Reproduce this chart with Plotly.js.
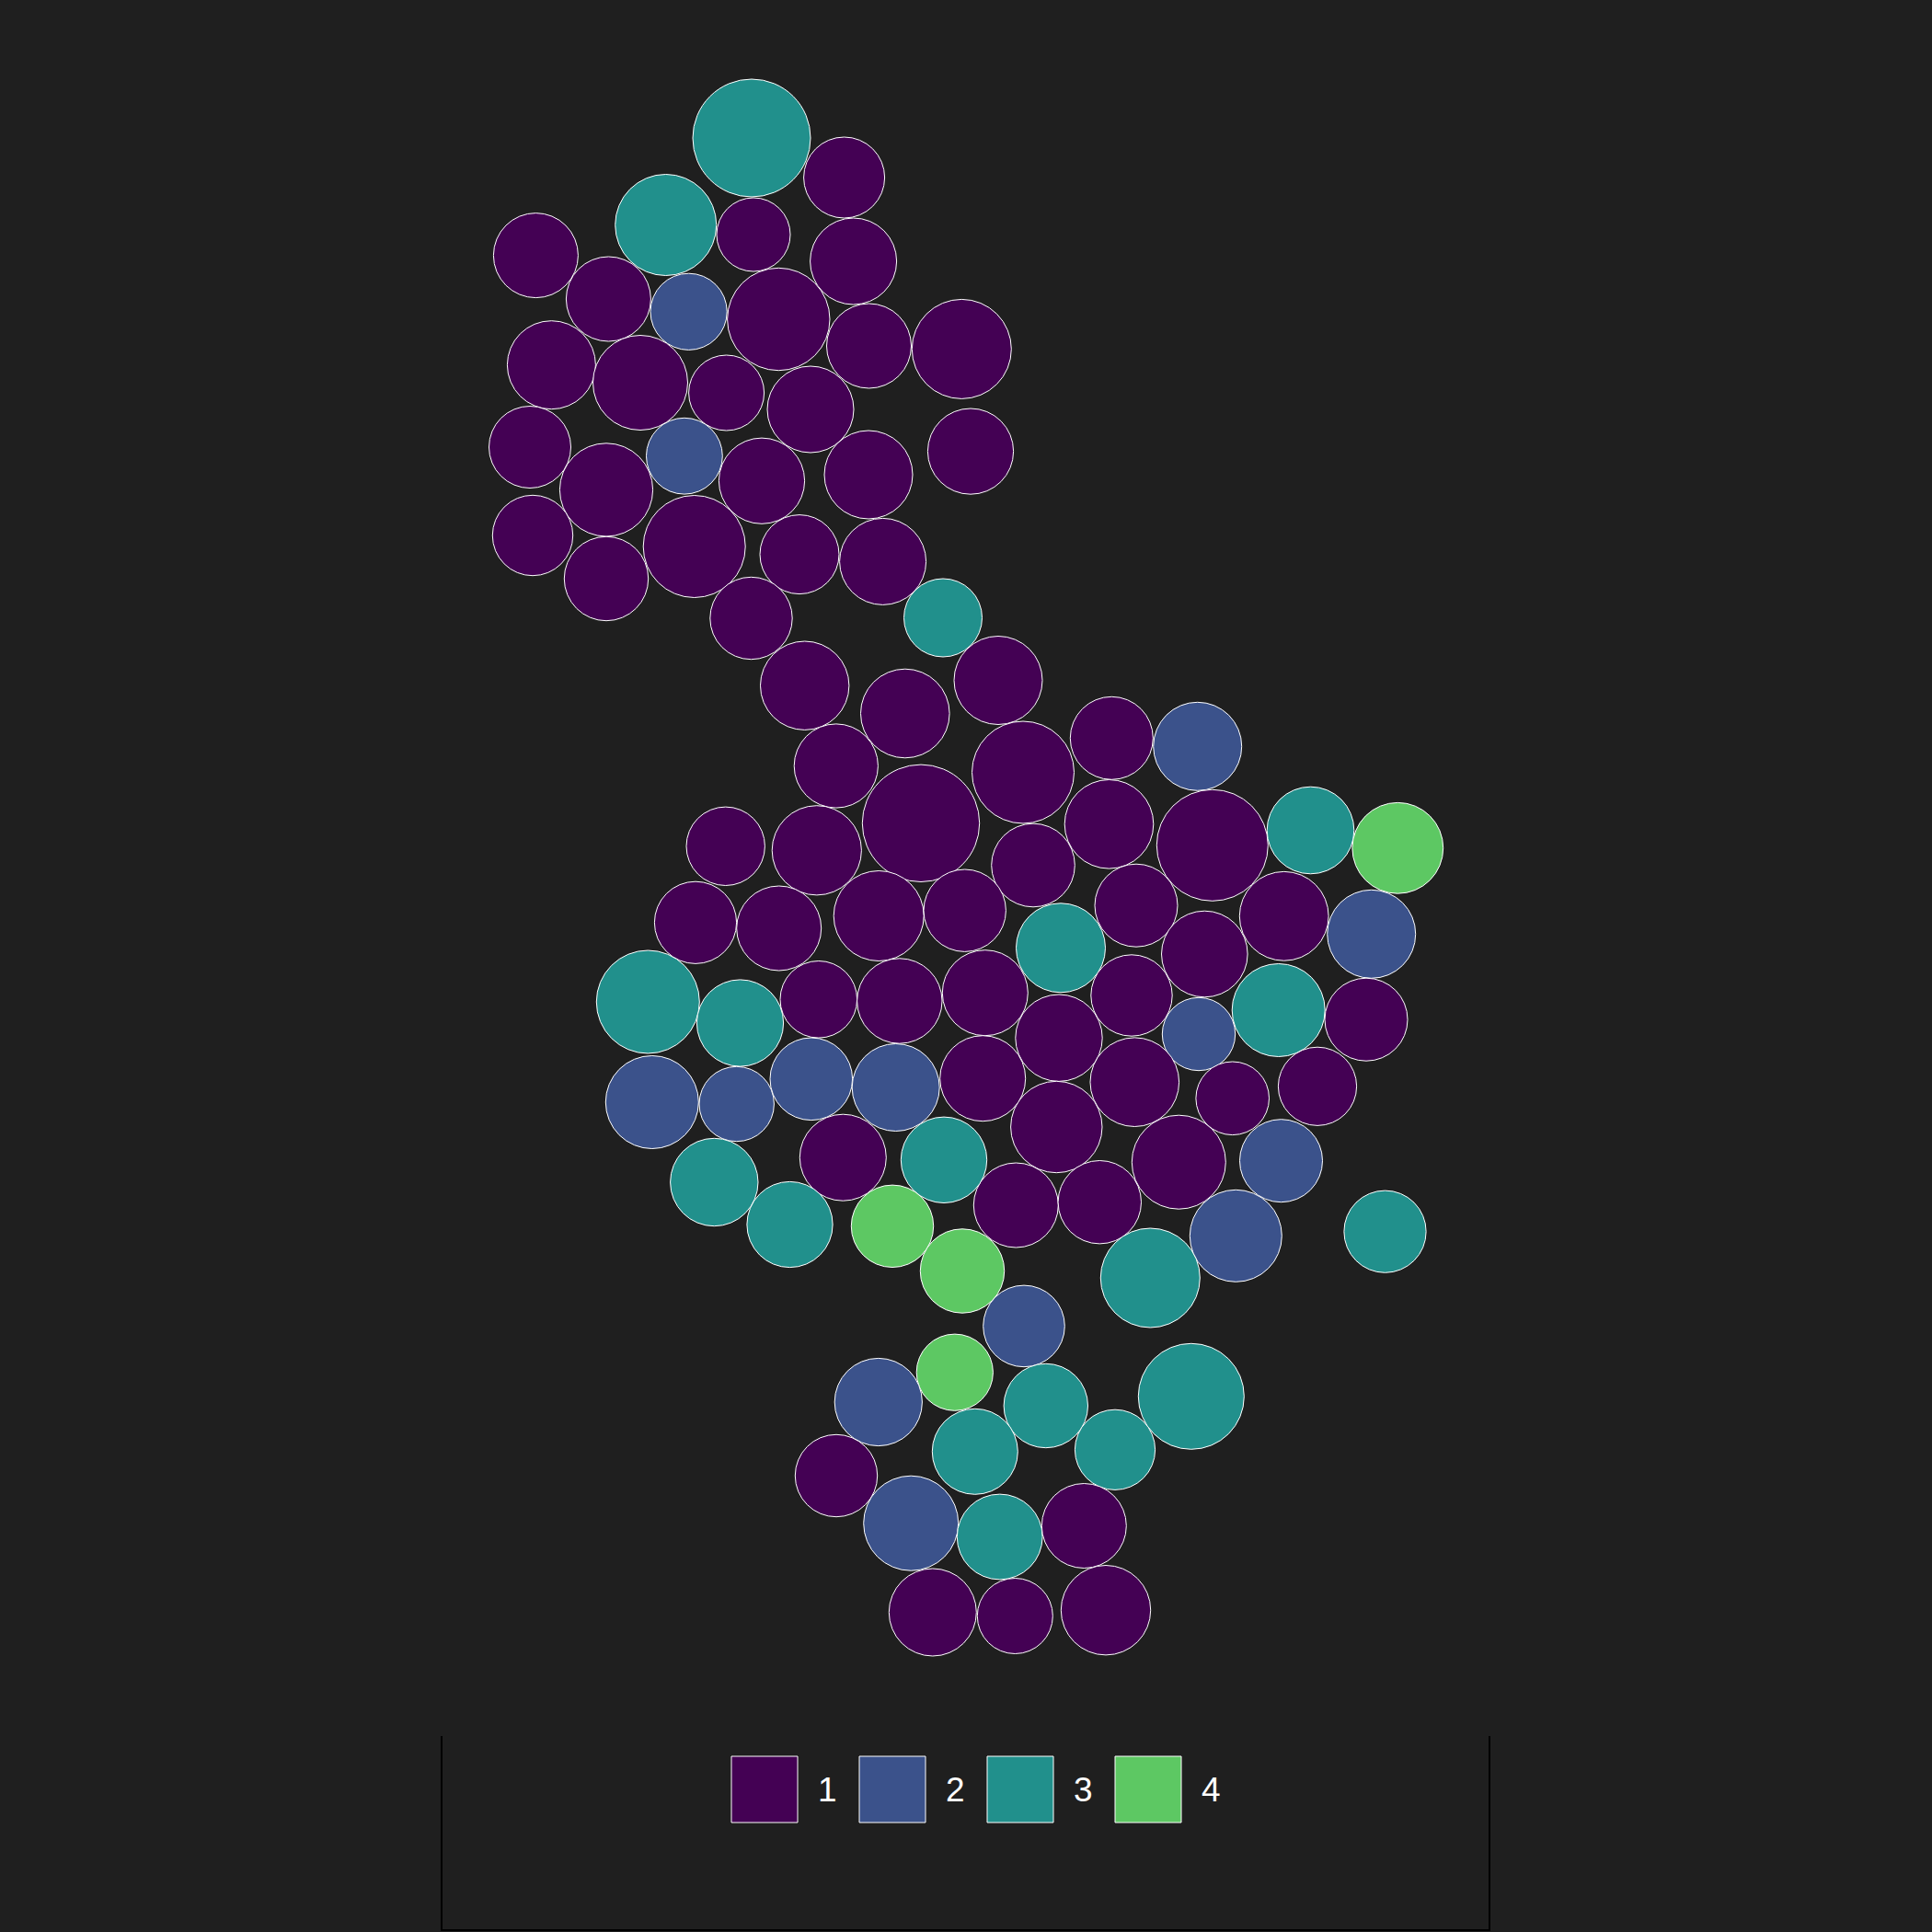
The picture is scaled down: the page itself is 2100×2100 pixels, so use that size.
<!DOCTYPE html>
<html>
<head>
<meta charset="utf-8">
<script src="https://cdn.plot.ly/plotly-3.0.1.min.js"></script>
<style>html,body{margin:0;padding:0;background:#1f1f1f;}</style>
</head>
<body>
<div id="chart" style="width:2100px;height:2100px;"></div>
<script>
// Circle centres (x, y) and radii, in map units, with their class (1-4)
const cx = [817,917.6,723.7,819,927.6,582.4,661.4,748.6,846.3,944.5,1045.3,599.4,696,789.6,881,576,743.9,659,828,944,1055,579,659,754.7,869,959.6,816.5,1025,874.7,983.8,1085,908.8,1001,1112,788.7,887.8,1123,756,846.7,955.2,1048.7,704.3,1153,1208.3,1301.7,1205.5,1317.8,1424.5,1519.3,1235,1395.7,1490.7,1309.3,1230,1389.7,1151,1303,1485,1233.3,1148.3,1339.7,1432,1281.3,1392.5,1104.3,1195.3,1343.3,1505.5,1250.3,1113,804.5,889.8,977.8,1070.8,708.8,800.7,881.8,973.7,1068.2,916.3,1026,776.3,858.5,970,1046,1037.8,954.8,1136.8,1294.8,1059.8,1212,909,990.2,1086.7,1178.3,1013.8,1103.3,1202];
const cy = [150,193,244.5,255,284,277.6,325,338.8,347,376,379.4,396.7,416,427,445,486,495.7,532.4,522.7,516,490.6,582,629,594,602.6,610.4,672,671.5,745.2,775.5,739.5,832.5,894.8,839.5,919.8,924.3,940.5,1002.8,1009,995.5,989.7,1089,1030.3,802.3,811.3,895.8,918.8,902.5,921.8,984.2,995.8,1015.3,1037,1082,1098,1128.2,1124,1108.2,1176.2,1225,1193.8,1180.8,1263.2,1261.7,1310,1306.7,1343.3,1338.7,1389,1441.4,1112,1086.3,1088,1079.2,1198,1200,1172.8,1182,1172.2,1258.2,1260.8,1285,1331,1332.8,1381.5,1491.7,1524,1528,1517.8,1577.8,1575.8,1604,1655.7,1670.5,1658.5,1752.5,1756.5,1750.2];
const radius = [64,44,55,40,47,46,46,41.6,55.7,46,54,48,51.5,41,47,44.5,41.4,50.6,46.6,48,46.6,43.7,45.7,55.5,43,47,44.7,42.5,48.2,48.3,48,45.6,63.7,55.5,42.7,48.6,45.3,44.6,46,49,44.7,56,48.5,45,48,48.3,60.5,47.3,49.4,45,48.4,48,46.8,44.2,50.5,47.2,39.7,45,48.3,49.7,39.8,42.6,51,45,46,45.2,50,44.6,54,44.3,47.1,41.8,46.2,46.5,50.5,40.7,44.8,47.5,46.5,47,46.7,47.7,46.6,44.7,45.7,41.6,47.6,45.7,57.5,46.5,43.6,44.7,51.5,46.4,46,47.5,41,48.7];
const category = [3,1,3,1,1,1,1,2,1,1,1,1,1,1,1,1,2,1,1,1,1,1,1,1,1,1,1,3,1,1,1,1,1,1,1,1,1,1,1,1,1,3,3,1,2,1,1,3,4,1,1,2,1,1,3,1,2,1,1,1,1,1,1,2,1,1,2,3,3,2,3,1,1,1,2,2,2,2,1,1,3,3,3,4,4,4,2,3,3,3,3,1,2,3,1,1,1,1];

// Legend
const legendLabels = ['1','2','3','4'];
const palette = ['#440154','#3B528B','#21908C','#5DC863'];

const shapes = [];
for (let i = 0; i < cx.length; i++) {
  shapes.push({
    type: 'circle', xref: 'x', yref: 'y',
    x0: cx[i] - radius[i], x1: cx[i] + radius[i],
    y0: cy[i] - radius[i], y1: cy[i] + radius[i],
    fillcolor: palette[category[i] - 1],
    line: {color: '#ffffff', width: 1}
  });
}

// legend frame (open at the top)
const P = v => v / 2100;
shapes.push({
  type: 'path', xref: 'paper', yref: 'paper',
  path: `M${P(480)},${1 - P(1887)} L${P(480)},${1 - P(2098)} L${P(1619)},${1 - P(2098)} L${P(1619)},${1 - P(1887)}`,
  line: {color: '#000000', width: 2}
});

const annotations = [];
const keyLeft = 795, keyStep = 139, keySize = 72, keyTop = 1909;
legendLabels.forEach((lab, k) => {
  const x0 = keyLeft + k * keyStep;
  shapes.push({
    type: 'rect', xref: 'paper', yref: 'paper',
    x0: P(x0), x1: P(x0 + keySize),
    y0: 1 - P(keyTop), y1: 1 - P(keyTop + keySize),
    fillcolor: palette[k], line: {color: '#ffffff', width: 1}
  });
  annotations.push({
    xref: 'paper', yref: 'paper',
    x: P(x0 + 104), y: 1 - P(keyTop + keySize / 2),
    xanchor: 'center', yanchor: 'middle',
    text: lab, showarrow: false,
    font: {family: 'Liberation Sans, Arial, sans-serif', size: 37, color: '#ffffff'}
  });
});

const layout = {
  width: 2100, height: 2100,
  margin: {l: 0, r: 0, t: 0, b: 0},
  paper_bgcolor: '#1f1f1f', plot_bgcolor: '#1f1f1f',
  xaxis: {range: [0, 2100], visible: false, fixedrange: true},
  yaxis: {range: [2100, 0], visible: false, fixedrange: true},
  showlegend: false,
  shapes: shapes,
  annotations: annotations
};

Plotly.newPlot('chart', [{x: [], y: [], type: 'scatter', mode: 'markers', hoverinfo: 'skip'}], layout, {staticPlot: true, displayModeBar: false});
</script>
</body>
</html>
